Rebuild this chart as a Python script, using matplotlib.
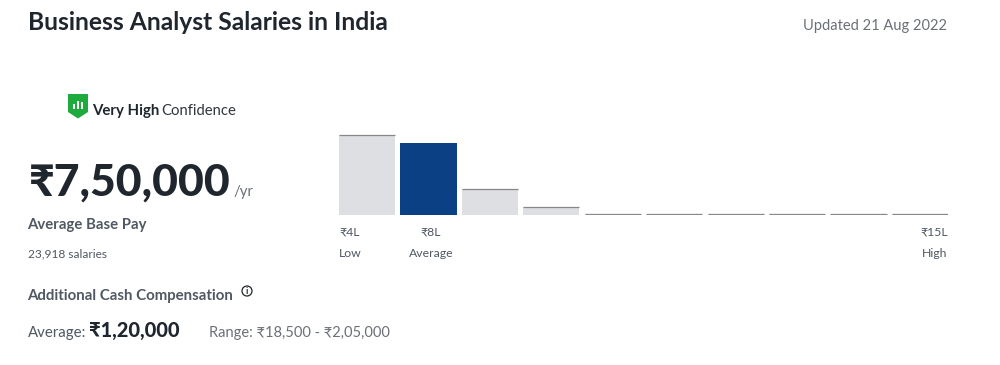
import matplotlib
matplotlib.use('Agg')
import matplotlib.pyplot as plt
from matplotlib.patches import Circle, PathPatch, Rectangle
from matplotlib.path import Path

FONT = ['Lato', 'DejaVu Sans']
plt.rcParams['font.family'] = FONT

# bar heights in pixels
bins = list(range(10))
counts = [80, 72, 26, 8, 1.5, 1, 1, 1, 1, 1]
highlight = 1
title = 'Business Analyst Salaries in India'
updated = 'Updated 21 Aug 2022'
base_pay = '₹7,50,000'
n_salaries = '23,918 salaries'
cash_avg = '₹1,20,000'
cash_range = 'Range: ₹18,500 - ₹2,05,000'

DARK = '#20262e'
GREY = '#505863'
MID = '#6b7078'

fig = plt.figure(figsize=(10, 3.65), dpi=100, facecolor='white')

# overlay in pixel coords for the text and the icons
bg = fig.add_axes([0, 0, 1, 1])
bg.set_xlim(0, 1000)
bg.set_ylim(365, 0)
bg.axis('off')


def label(x, y, s, size, color=DARK, weight='normal', ha='left'):
    return bg.text(x, y, s, fontsize=size, color=color, fontweight=weight,
                   ha=ha, va='baseline')


label(28, 30, title, 17.75, weight='bold')
label(947, 30, updated, 10.5, color=MID, ha='right')

# shield icon
shield = Path([(68, 94), (88, 94), (88, 112), (78, 118.5), (68, 112), (68, 94)],
              [Path.MOVETO, Path.LINETO, Path.LINETO, Path.LINETO, Path.LINETO,
               Path.CLOSEPOLY])
bg.add_patch(PathPatch(shield, fc='#1eaa3c', ec='none'))
for bx, top in zip([73, 77, 81], [104, 101, 102]):
    bg.add_patch(Rectangle((bx, top), 2, 109 - top, fc='white', ec='none'))

label(92, 115, 'Very High', 10.8, weight='bold')
label(161, 115, 'Confidence', 10.7, color='#30363e')

label(29, 196, base_pay, 32, weight='black')
label(234, 196, '/yr', 10.8, color=MID)
label(27.5, 229, 'Average Base Pay', 10.7, color=GREY, weight='bold')
label(28, 257, n_salaries, 8.6, color=GREY)

label(27.5, 300, 'Additional Cash Compensation', 10.8, color=GREY, weight='bold')
bg.add_patch(Circle((247, 291), 5, fc='none', ec=DARK, lw=0.9))
bg.text(247, 291, 'i', fontsize=6.5, color=DARK, ha='center', va='center',
        fontweight='bold')

label(28, 337, 'Average:', 10.8, color=GREY)
label(89, 337, cash_avg, 14.4, weight='black')
label(209, 337, cash_range, 10.5, color=MID)

label(339, 236, '₹4L', 8.8, color=GREY)
label(431, 236, '₹8L', 8.8, color=GREY, ha='center')
label(947.5, 236, '₹15L', 8.8, color=GREY, ha='right')
label(339, 257, 'Low', 8.8, color=GREY)
label(431, 257, 'Average', 8.8, color=GREY, ha='center')
label(947.5, 257, 'High', 8.8, color=GREY, ha='right')

# histogram, spans x 339-948, baseline at y 215
ax = fig.add_axes([339 / 1000, 1 - 215 / 365, 609 / 1000, 90 / 365])
ax.patch.set_alpha(0)
width = 0.913
colors = ['#0b4085' if i == highlight else '#dedfe2' for i in bins]
ax.bar(bins, counts, width=width, color=colors, linewidth=0)
for i, c in zip(bins, counts):
    if i != highlight:
        ax.hlines(c, i - width / 2, i + width / 2, color='#85878b', lw=0.9)
ax.set_xlim(-width / 2, 9 + width / 2)
ax.set_ylim(0, 90)
ax.axis('off')

fig.savefig('out.png', dpi=100)
